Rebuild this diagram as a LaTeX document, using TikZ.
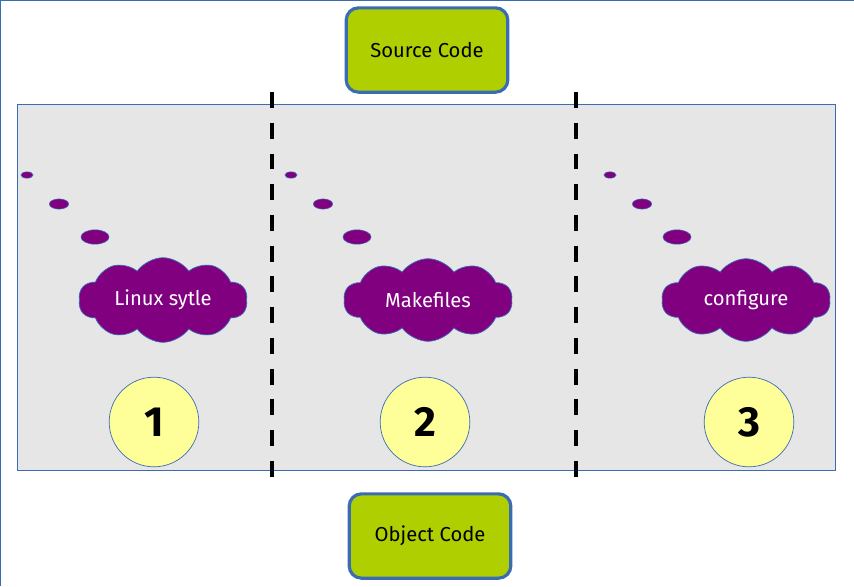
\documentclass[tikz,border=0pt]{standalone}
\usepackage{fontspec}
\setmainfont{Fira Sans}
\usepackage{xcolor}
\usepackage{tikz}
\usetikzlibrary{shapes.symbols,shapes.geometric}

\definecolor{lime}{HTML}{B0CF00}
\definecolor{frameblue}{HTML}{3A6CB4}
\definecolor{plum}{HTML}{800080}
\definecolor{panelgray}{HTML}{E6E6E6}
\definecolor{paleyellow}{HTML}{FFFF99}

\begin{document}
\begin{tikzpicture}[
  x=0.02cm,y=-0.02cm,
  font=\fontsize{11.5}{14}\selectfont,
  codebox/.style={draw=frameblue,line width=1.8pt,rounded corners=7pt,fill=lime,minimum width=92pt,minimum height=48pt},
  bubble/.style={ellipse,draw=frameblue,line width=0.3pt,fill=plum,inner sep=0pt},
  thought/.style={cloud,cloud puffs=10,cloud puff arc=110,aspect=2.1,draw=frameblue,line width=0.4pt,fill=plum,text=white,minimum width=96pt,minimum height=47pt,inner sep=0pt},
  num/.style={circle,draw=frameblue,line width=0.4pt,fill=paleyellow,minimum size=51pt,font=\fontsize{24}{28}\selectfont\bfseries},
  divider/.style={line width=2.3pt,dash pattern=on 9pt off 8.5pt},
]
\useasboundingbox (0,0) rectangle (854,586);
\draw[frameblue,line width=0.8pt] (0,586) -- (0,0) -- (854,0);

% panel
\node[draw=frameblue,line width=0.6pt,fill=panelgray,minimum width=466pt,minimum height=208pt] (panel) at (426.5,287.5) {};

% code boxes
\node[codebox] (src) at (427,50) {Source Code};
\node[codebox] (obj) at (430,536) {Object Code};

% dividers
\draw[divider] (272,92) -- (272,487);
\draw[divider] (576,92) -- (576,487);

% step 1
\node[bubble,minimum width=7pt,minimum height=3.6pt] (b1a) at (27,175) {};
\node[bubble,minimum width=11pt,minimum height=5.8pt] (b1b) at (59,204) {};
\node[bubble,minimum width=16pt,minimum height=8.2pt] (b1c) at (95,237) {};
\node[thought] (linux) at (163,300) {Linux sytle};
\node[num] (one) at (154,422) {1};

% step 2
\node[bubble,minimum width=7pt,minimum height=3.6pt] (b2a) at (291,175) {};
\node[bubble,minimum width=11pt,minimum height=5.8pt] (b2b) at (323,204) {};
\node[bubble,minimum width=16pt,minimum height=8.2pt] (b2c) at (357,237) {};
\node[thought] (make) at (428,300) {Makefiles};
\node[num] (two) at (425,422) {2};

% step 3
\node[bubble,minimum width=7pt,minimum height=3.6pt] (b3a) at (610,175) {};
\node[bubble,minimum width=11pt,minimum height=5.8pt] (b3b) at (642,204) {};
\node[bubble,minimum width=16pt,minimum height=8.2pt] (b3c) at (677,237) {};
\node[thought] (conf) at (746,300) {configure};
\node[num] (three) at (749,422) {3};
\end{tikzpicture}
\end{document}
